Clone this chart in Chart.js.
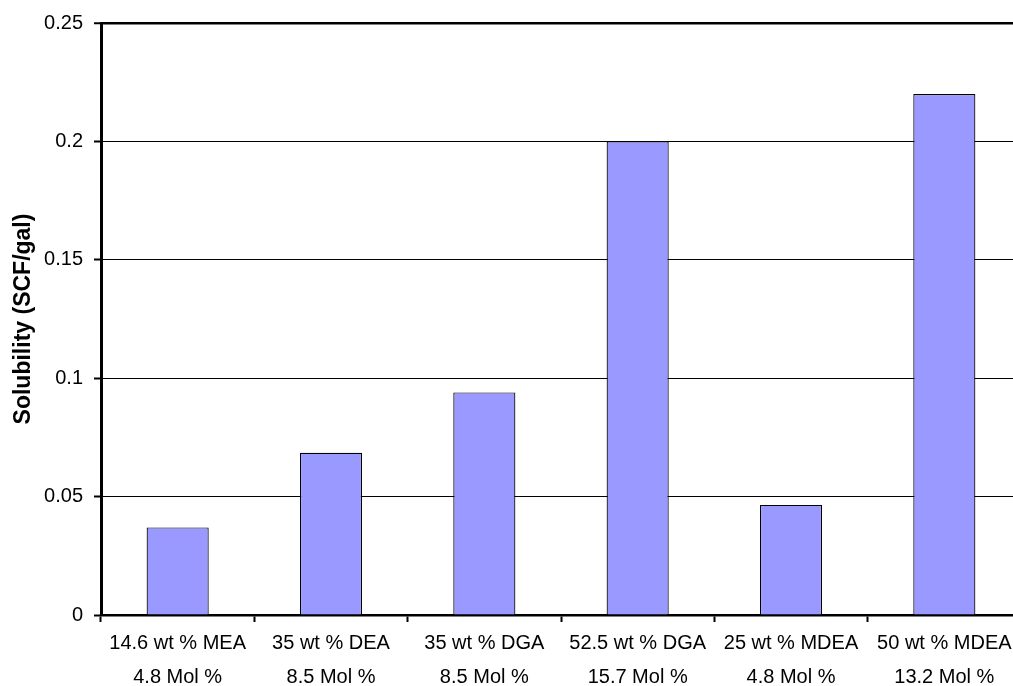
<!DOCTYPE html>
<html>
<head>
<meta charset="utf-8">
<title>Solubility by amine solution</title>
<script src="https://cdn.jsdelivr.net/npm/chart.js@4/dist/chart.umd.min.js"></script>
<style>
  html, body { margin: 0; padding: 0; background: #fff; overflow: hidden; }
  #wrap { width: 1013px; height: 686px; overflow: hidden; }
  canvas { display: block; }
</style>
</head>
<body>
<div id="wrap"><canvas id="chart" width="1021" height="686"></canvas></div>
<script>
// Amine solutions: weight percent (line 1) and mole percent (line 2)
const solutions = ['14.6 wt % MEA', '35 wt % DEA', '35 wt % DGA', '52.5 wt % DGA', '25 wt % MDEA', '50 wt % MDEA'];
const molePercent = ['4.8 Mol %', '8.5 Mol %', '8.5 Mol %', '15.7 Mol %', '4.8 Mol %', '13.2 Mol %'];
// Solubility in SCF per gallon
const solubility = [0.037, 0.0685, 0.094, 0.2, 0.0465, 0.22];
const yTicks = [0, 0.05, 0.1, 0.15, 0.2, 0.25];

const labels = solutions.map((s, i) => [s, molePercent[i]]);
const FONT = '"Liberation Sans", Arial, Helvetica, sans-serif';

new Chart(document.getElementById('chart'), {
  type: 'bar',
  data: {
    labels: labels,
    datasets: [{
      data: solubility,
      backgroundColor: '#9999FF',
      borderColor: '#000000',
      borderWidth: 1.2,
      barPercentage: 0.405,
      categoryPercentage: 1.0
    }]
  },
  options: {
    responsive: false,
    animation: false,
    devicePixelRatio: 1,
    layout: { padding: { top: 22, right: 0, bottom: 0, left: 0 } },
    plugins: { legend: { display: false }, tooltip: { enabled: false } },
    scales: {
      x: {
        afterFit: (s) => { s.height = 71; },
        border: { display: true, color: '#000', width: 2.5 },
        grid: {
          offset: true,
          drawOnChartArea: false,
          drawTicks: true,
          tickLength: 7,
          tickWidth: 2,
          tickColor: '#000'
        },
        ticks: {
          color: '#000',
          padding: 4,
          maxRotation: 0,
          autoSkip: false,
          font: { family: FONT, size: 20, lineHeight: 1.7 }
        }
      },
      y: {
        min: 0,
        max: 0.25,
        afterFit: (s) => { s.width = 101; },
        afterBuildTicks: (s) => { s.ticks = yTicks.map(v => ({ value: v })); },
        border: { display: true, color: '#000', width: 3 },
        grid: {
          color: '#000',
          lineWidth: (ctx) => (ctx.tick && ctx.tick.value === 0.25 ? 2.5 : 1),
          tickLength: 7,
          tickWidth: 2,
          tickColor: '#000'
        },
        ticks: {
          color: '#000',
          padding: 11,
          font: { family: FONT, size: 20 },
          callback: (v) => String(Math.round(v * 100) / 100)
        },
        title: {
          display: true,
          text: 'Solubility (SCF/gal)',
          color: '#000',
          padding: { top: 10, bottom: 0 },
          font: { family: FONT, size: 23, weight: 'bold' }
        }
      }
    }
  }
});
</script>
</body>
</html>
